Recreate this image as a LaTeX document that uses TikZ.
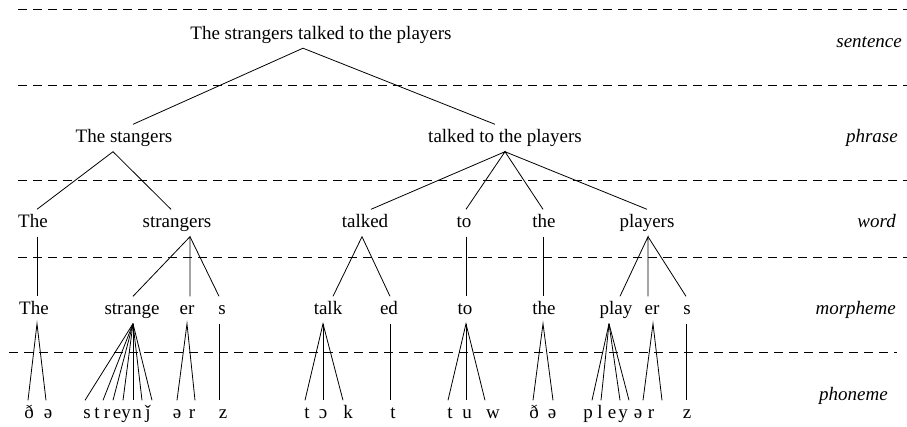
\documentclass[tikz,border=0pt]{standalone}
\usepackage{fontspec}
\setmainfont{Liberation Serif}
\begin{document}
\begin{tikzpicture}[x=1pt,y=-1pt,
  lv/.style={font=\fontsize{19}{22}\selectfont, inner xsep=0pt, inner ysep=5pt, text height=13pt, text depth=4pt},
  lab/.style={font=\fontsize{19}{22}\selectfont\itshape, anchor=east, inner sep=0pt, text height=13pt, text depth=4pt},
  sep/.style={dash pattern=on 8.5pt off 6.5pt, line width=0.8pt},
  br/.style={line width=0.8pt}]
\useasboundingbox (0,0) rectangle (907,426);
% level separators
\draw[sep] (18,9.5) -- (907,9.5);
\draw[sep] (18,85) -- (907,85);
\draw[sep] (18,180.5) -- (907,180.5);
\draw[sep] (18,257) -- (907,257);
\draw[sep] (9,352) -- (897,352);
% level labels
\node[lab] (ls) at (902,43) {sentence};
\node[lab] (lp) at (898,138) {phrase};
\node[lab] (lw) at (896,223) {word};
\node[lab] (lm) at (896,310) {morpheme};
\node[lab] (lf) at (888,396) {phoneme};
% sentence and phrases
\node[lv] (s) at (321,34.5) {The strangers talked to the players};
\node[lv] (p1) at (124,138) {The stangers};
\node[lv] (p2) at (505,138) {talked to the players};
% words
\node[lv] (w1) at (33,223) {The};
\node[lv] (w2) at (177,223) {strangers};
\node[lv] (w3) at (365,223) {talked};
\node[lv] (w4) at (464,223) {to};
\node[lv] (w5) at (544,223) {the};
\node[lv] (w6) at (647,223) {players};
% morphemes
\node[lv] (m1) at (34,310) {The};
\node[lv] (m2) at (132,310) {strange};
\node[lv] (m3) at (187,310) {er};
\node[lv] (m4) at (222,310) {s};
\node[lv] (m5) at (328,310) {talk};
\node[lv] (m6) at (389,310) {ed};
\node[lv] (m7) at (465,310) {to};
\node[lv] (m8) at (544,310) {the};
\node[lv] (m9) at (616,310) {play};
\node[lv] (m10) at (652,310) {er};
\node[lv] (m11) at (687,310) {s};
% phonemes
\node[lv] (a1) at (29,414) {ð};
\node[lv] (a2) at (48,414) {ə};
\node[lv] (b1) at (87,414) {s};
\node[lv] (b2) at (97,414) {t};
\node[lv] (b3) at (107,414) {r};
\node[lv] (b4) at (117,414) {e};
\node[lv] (b5) at (126,414) {y};
\node[lv] (b6) at (137,414) {n};
\node[lv] (b7) at (148,414) {ǰ};
\node[lv] (c1) at (177,414) {ə};
\node[lv] (c2) at (192,414) {r};
\node[lv] (d1) at (223,414) {z};
\node[lv] (e1) at (307,414) {t};
\node[lv] (e2) at (323,414) {ɔ};
\node[lv] (e3) at (348,414) {k};
\node[lv] (g1) at (393,414) {t};
\node[lv] (h1) at (450,414) {t};
\node[lv] (h2) at (467,414) {u};
\node[lv] (h3) at (493,414) {w};
\node[lv] (i1) at (534,414) {ð};
\node[lv] (i2) at (552,414) {ə};
\node[lv] (j1) at (588,414) {p};
\node[lv] (j2) at (600,414) {l};
\node[lv] (j3) at (612,414) {e};
\node[lv] (j4) at (623,414) {y};
\node[lv] (k1) at (638,414) {ə};
\node[lv] (k2) at (651,414) {r};
\node[lv] (l1) at (687,414) {z};
% sentence -> phrases
\draw[br] ([xshift=9pt]p1.north) -- ([xshift=-18pt]s.south) -- ([xshift=-10pt]p2.north);
% phrases -> words
\draw[br] ([xshift=4pt]w1.north) -- ([xshift=-11pt]p1.south) -- ([xshift=-6pt]w2.north);
\draw[br] ([xshift=6pt]w3.north) -- (p2.south) -- ([xshift=2pt]w4.north);
\draw[br] ([xshift=-1pt]w5.north) -- (p2.south) -- (w6.north);
% words -> morphemes
\draw[br] ([xshift=4pt]w1.south) -- ([xshift=3pt]m1.north);
\draw[br] ([xshift=1pt]m2.north) -- ([xshift=13pt]w2.south) -- ([xshift=3pt]m3.north);
\draw[br] ([xshift=13pt]w2.south) -- ([xshift=-3pt]m4.north);
\draw[br] ([xshift=5pt]m5.north) -- ([xshift=-3pt]w3.south) -- ([xshift=1pt]m6.north);
\draw[br] ([xshift=2pt]w4.south) -- ([xshift=1pt]m7.north);
\draw[br] ([xshift=-1pt]w5.south) -- ([xshift=-1pt]m8.north);
\draw[br] ([xshift=4pt]m9.north) -- ([xshift=1pt]w6.south) -- ([xshift=-4pt]m10.north);
\draw[br] ([xshift=1pt]w6.south) -- ([xshift=-1pt]m11.north);
% morphemes -> phonemes
\draw[br] ([xshift=-1pt]a1.north) -- ([xshift=3pt]m1.south) -- ([xshift=-2pt]a2.north);
\foreach \n/\d in {b1/-2, b2/6, b3/6, b4/6, b5/7, b6/5, b7/4}
  \draw[br] ([xshift=1pt]m2.south) -- ([xshift=\d pt]\n.north);
\draw[br] (c1.north) -- (m3.south) -- ([xshift=3pt]c2.north);
\draw[br] ([xshift=-3pt]m4.south) -- ([xshift=-4pt]d1.north);
\draw[br] ([xshift=-2pt]e1.north) -- ([xshift=-5pt]m5.south) -- ([xshift=-5pt]e3.north);
\draw[br] ([xshift=-5pt]m5.south) -- (e2.north);
\draw[br] ([xshift=1pt]m6.south) -- ([xshift=-3pt]g1.north);
\draw[br] ([xshift=-2pt]h1.north) -- ([xshift=1pt]m7.south) -- ([xshift=-8pt]h3.north);
\draw[br] ([xshift=1pt]m7.south) -- ([xshift=-1pt]h2.north);
\draw[br] ([xshift=-1pt]i1.north) -- ([xshift=-1pt]m8.south) -- ([xshift=1pt]i2.north);
\foreach \n/\d in {j1/4, j2/1, j3/8, j4/6}
  \draw[br] ([xshift=-7pt]m9.south) -- ([xshift=\d pt]\n.north);
\draw[br] ([xshift=5pt]k1.north) -- ([xshift=1pt]m10.south) -- ([xshift=11pt]k2.north);
\draw[br] ([xshift=-1pt]m11.south) -- ([xshift=-1pt]l1.north);
\end{tikzpicture}
\end{document}
